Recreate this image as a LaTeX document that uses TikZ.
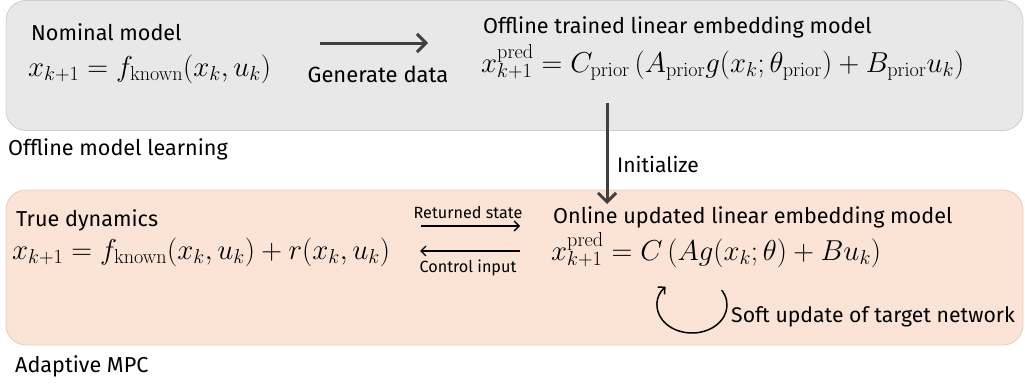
\documentclass[tikz,border=0pt]{standalone}
\usepackage{fix-cm}
\usepackage[no-math]{fontspec}
\setmainfont{Fira Sans}
\usetikzlibrary{arrows.meta}
\definecolor{grayfill}{HTML}{E8E8E8}
\definecolor{grayline}{HTML}{CFCFCF}
\definecolor{peachfill}{HTML}{FBE3D6}
\definecolor{peachline}{HTML}{E3CCC0}
\definecolor{darkarrow}{HTML}{404040}
\begin{document}
\begin{tikzpicture}[x=1pt,y=1pt,
  panelbox/.style={rounded corners=20pt, line width=0.8pt, inner sep=0pt},
  lbl/.style={anchor=base west, inner sep=0pt, font=\fontsize{21.6}{26}\selectfont},
  mth/.style={anchor=base west, inner sep=0pt, font=\fontsize{28.8}{33}\selectfont},
  smalllbl/.style={anchor=base, inner sep=0pt, font=\fontsize{16.2}{19}\selectfont},
  bigarrow/.style={draw=darkarrow, line width=3pt, -{Straight Barb[length=9pt,width=18pt]}},
  thinarrow/.style={draw=black, line width=1.3pt, -{Straight Barb[length=5pt,width=10pt]}},
]
\useasboundingbox (0,0) rectangle (1025,-383);
% panels
\node[panelbox, draw=grayline, fill=grayfill, minimum width=1017pt, minimum height=130pt] (offline) at (514.5,-65.5) {};
\node[panelbox, draw=peachline, fill=peachfill, minimum width=1017pt, minimum height=155pt] (online) at (514.5,-267.5) {};
% offline panel
\node[lbl] (nomT) at (31,-40) {Nominal model};
\node[mth] (nomM) at (28,-76) {$x_{k+1} = f_{\mathrm{known}}(x_k, u_k)$};
\coordinate (gdS) at (320,-43);
\coordinate (gdE) at (428,-43);
\draw[bigarrow] (gdS) -- (gdE);
\node[smalllbl, font=\fontsize{22}{26}\selectfont] (gdL) at (378,-82) {Generate data};
\node[lbl] (offT) at (483,-33) {Offline trained linear embedding model};
\node[mth] (offM) at (481,-72) {$x^{\mathrm{pred}}_{k+1} = C_{\mathrm{prior}}\left(A_{\mathrm{prior}} g(x_k;\theta_{\mathrm{prior}}) + B_{\mathrm{prior}} u_k\right)$};
\node[lbl] (offC) at (8,-155) {Offline model learning};
% initialize
\coordinate (initS) at (607,-103);
\coordinate (initE) at (607,-204);
\draw[bigarrow] (initS) -- (initE);
\node[lbl, font=\fontsize{21}{25}\selectfont] (initL) at (617,-172) {Initialize};
% online panel
\node[lbl] (trueT) at (16,-226) {True dynamics};
\node[mth] (trueM) at (12,-259) {$x_{k+1} = f_{\mathrm{known}}(x_k, u_k) + r(x_k, u_k)$};
\coordinate (rsS) at (421,-226);
\coordinate (rsE) at (520,-226);
\draw[thinarrow] (rsS) -- (rsE);
\node[smalllbl] (rsL) at (468,-218) {Returned state};
\coordinate (ciS) at (520,-251);
\coordinate (ciE) at (420,-251);
\draw[thinarrow] (ciS) -- (ciE);
\node[smalllbl] (ciL) at (468,-272) {Control input};
\node[lbl] (onT) at (553,-223) {Online updated linear embedding model};
\node[mth] (onM) at (551,-260) {$x^{\mathrm{pred}}_{k+1} = C\left(A g(x_k;\theta) + B u_k\right)$};
\coordinate (loopC) at (692,-305);
\draw[thinarrow, line width=1.5pt] ([shift={(32:35pt and 28pt)}]loopC) arc[start angle=32, end angle=-221, x radius=35pt, y radius=28pt];
\node[lbl, font=\fontsize{21.2}{25}\selectfont] (softL) at (731,-322) {Soft update of target network};
\node[lbl] (onC) at (15,-372) {Adaptive MPC};
\end{tikzpicture}
\end{document}
